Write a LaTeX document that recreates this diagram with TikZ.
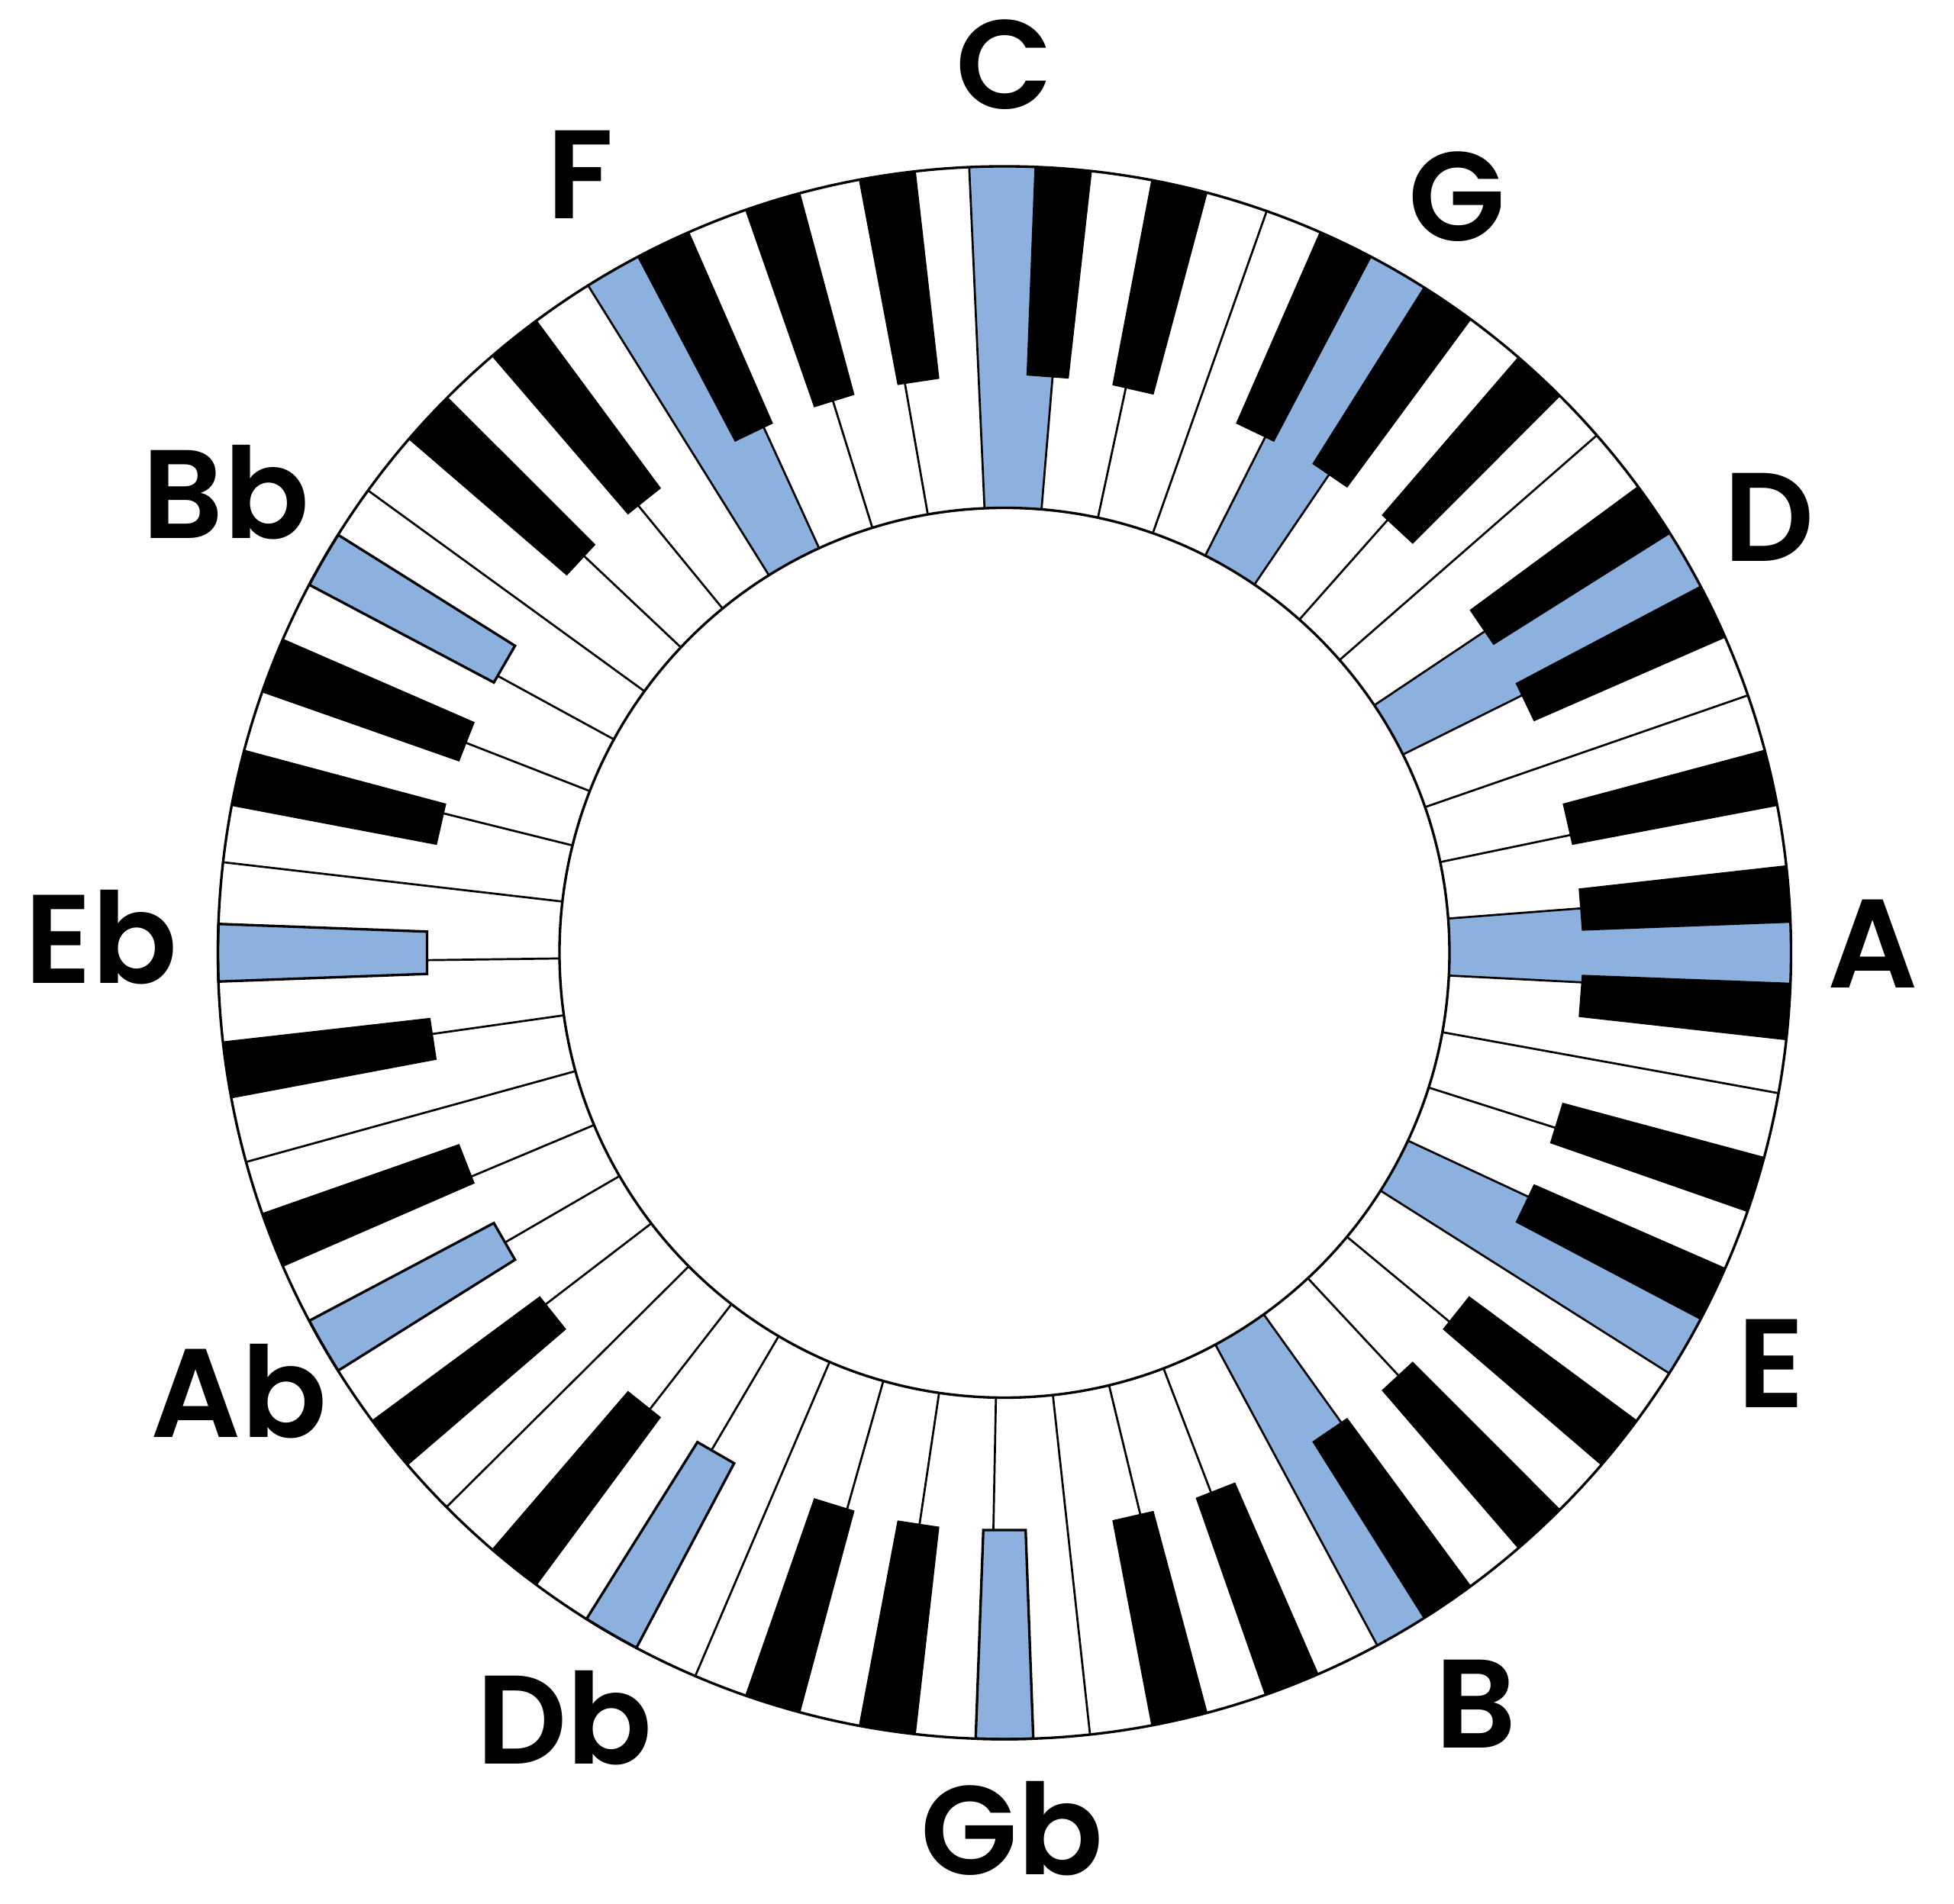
\documentclass[tikz,border=0pt]{standalone}
\usepackage{fontspec}
\newfontfamily\notefont{Poppins SemiBold}
\usetikzlibrary{calc}
\definecolor{keyBlue}{HTML}{8DB1DE}
\tikzset{
  keyline/.style  = {line width=0.77pt, draw=black},
  rim/.style      = {line width=0.95pt, draw=black},
  blackkey/.style = {fill=black, draw=none},
  markwhite/.style= {fill=keyBlue, draw=none},
  markblack/.style= {fill=keyBlue, draw=black, line width=0.95pt, line join=miter},
  notelabel/.style= {font=\notefont\fontsize{47}{50}\selectfont, inner sep=0pt},
}
% radii of the ring (cm)
\newcommand{\rIn}{5.83}
\newcommand{\rOut}{10.305}
\newcommand{\rBlk}{7.57}

\begin{document}
\begin{tikzpicture}
\useasboundingbox (-13.16,-12.465) rectangle (12.44,12.485);

% highlighted white keys (white index k)
\foreach \k in {0,4,8,12,16,20,45} {
  \pgfmathsetmacro\aA{92.5714-\k*(360/49)}
  \pgfmathsetmacro\aB{92.5714-(\k+1)*(360/49)}
  \fill[markwhite] (\aA:\rIn) -- (\aA:\rOut)
    arc[start angle=\aA, end angle=\aB, radius=\rOut]
    -- (\aB:\rIn) arc[start angle=\aB, end angle=\aA, radius=\rIn] -- cycle;
}

% white key boundaries
\foreach \k in {0,...,48} {
  \pgfmathsetmacro\aK{92.5714-\k*(360/49)}
  \draw[keyline] (\aK:\rIn) -- (\aK:\rOut);
}

% black keys, seven octaves
\foreach \o in {0,...,6} {
  \foreach \b in {1,3,6,8,10} {
    \pgfmathsetmacro\aC{90-(12*\o+\b)*(30/7)}
    \fill[blackkey] (\aC+2.1:\rBlk) -- (\aC+2.1:\rOut)
      arc[start angle=\aC+2.1, end angle=\aC-2.1, radius=\rOut]
      -- (\aC-2.1:\rBlk) -- cycle;
  }
}

% highlighted black keys (semitone s)
\foreach \s in {42,49,56,63,70} {
  \pgfmathsetmacro\aC{90-\s*(30/7)}
  \draw[markblack] (\aC+2.1:\rBlk) -- (\aC+2.1:\rOut)
    arc[start angle=\aC+2.1, end angle=\aC-2.1, radius=\rOut]
    -- (\aC-2.1:\rBlk) -- cycle;
}

\draw[rim] (0,0) circle (\rIn);
\draw[rim] (0,0) circle (\rOut);

% note names, circle of fifths
\foreach \ang/\rad/\txt/\nm in {
    90/11.64/C/nC, 59.1/11.55/G/nG, 29.65/11.53/D/nD, 0.6/11.38/A/nA,
    -28.2/11.40/E/nE, -57.9/11.62/B/nB, -89.5/11.48/Gb/nGb,
    240.1/11.57/Db/nDb, 209.8/11.56/Ab/nAb, 179.0/11.84/Eb/nEb,
    149.4/11.85/Bb/nBb, 118.6/11.61/F/nF} {
  \node[notelabel] (\nm) at (\ang:\rad) {\txt};
}

\end{tikzpicture}
\end{document}
